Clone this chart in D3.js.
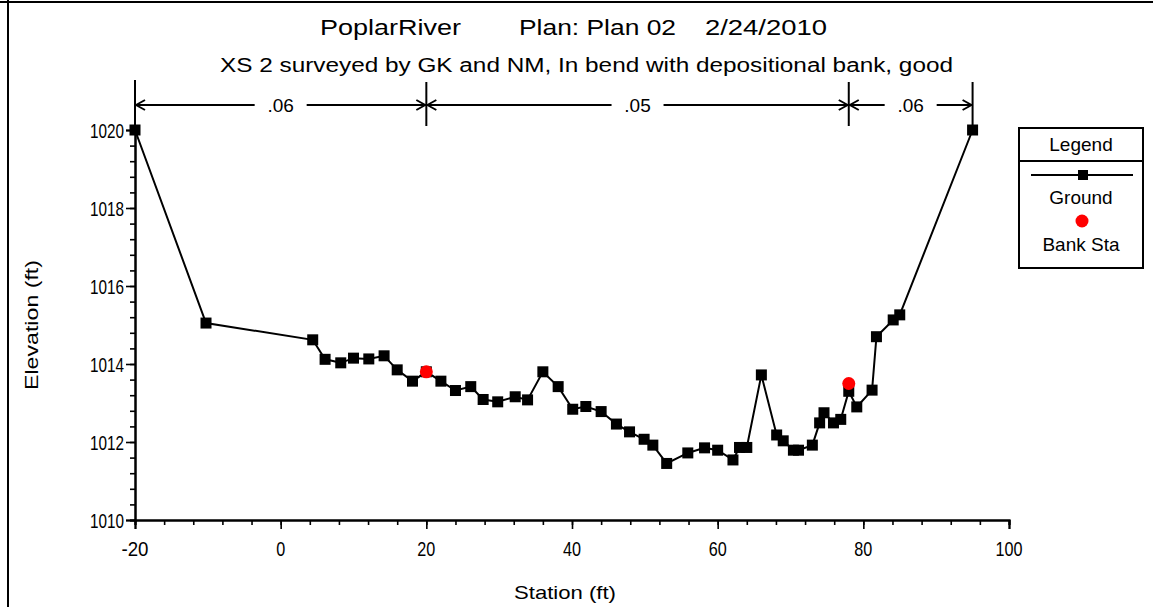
<!DOCTYPE html>
<html><head><meta charset="utf-8">
<script src="https://cdn.jsdelivr.net/npm/d3@7"></script>
<style>
html,body{margin:0;padding:0;background:#fff;}
svg{display:block;}
text{font-family:"Liberation Sans",Arial,sans-serif;fill:#000;}
</style></head>
<body>
<svg id="c" width="1153" height="607"></svg>
<script>
// ---- data ----
const groundStation = [-20,-10.25,4.4,6.1,8.25,10,12.1,14.2,16,18.1,20,22,24,26.1,27.8,29.8,32.2,33.9,36,38.1,40.1,41.9,44,46.1,47.9,49.9,51.1,53,55.9,58.2,60,62.1,63,64,66,68.1,69,70.4,71.1,73,74,74.6,75.9,76.9,78,79.1,81.2,81.8,84.1,85,95];
const groundElev    = [1020,1015.05,1014.62,1014.12,1014.03,1014.15,1014.13,1014.21,1013.85,1013.56,1013.8,1013.56,1013.32,1013.42,1013.09,1013.03,1013.16,1013.08,1013.8,1013.42,1012.84,1012.91,1012.78,1012.46,1012.26,1012.07,1011.92,1011.45,1011.72,1011.85,1011.79,1011.54,1011.86,1011.86,1013.72,1012.18,1012.03,1011.79,1011.79,1011.92,1012.49,1012.75,1012.49,1012.58,1013.3,1012.9,1013.33,1014.7,1015.13,1015.26,1020];
const bankStation = [20,78];
const bankElev    = [1013.8,1013.5];
const roughBreaks = [-20,20,78,95];
const roughValues = [".06",".05",".06"];
const xTicks = [-20,0,20,40,60,80,100];
const yTicks = [1010,1012,1014,1016,1018,1020];
const titleParts = ["PoplarRiver","Plan: Plan 02","2/24/2010"];
const subtitle = "XS 2 surveyed by  GK and NM, In bend with depositional bank, good";
const xLabel = "Station (ft)";
const yLabel = "Elevation (ft)";
const legendItems = ["Ground","Bank Sta"];

// ---- drawing ----
const svg = d3.select("#c");
const x = d3.scaleLinear().domain([-20,100]).range([135,1009]);
const y = d3.scaleLinear().domain([1010,1020]).range([520,130]);

// frame
svg.append("line").attr("x1",8).attr("x2",8).attr("y1",0).attr("y2",607).attr("stroke","#000").attr("stroke-width",2);
svg.append("line").attr("x1",0).attr("x2",1153).attr("y1",2).attr("y2",2).attr("stroke","#000").attr("stroke-width",2);

// titles
const tpos = [[320,141],[519,157],[705,122]];
titleParts.forEach((t,i)=>{
  svg.append("text").attr("x",tpos[i][0]).attr("y",35).attr("font-size",22)
    .attr("textLength",tpos[i][1]).attr("lengthAdjust","spacingAndGlyphs").text(t);
});
svg.append("text").attr("x",220).attr("y",72).attr("font-size",20)
  .attr("textLength",733).attr("lengthAdjust","spacingAndGlyphs").text(subtitle);

// axes (ticks through d3 axis, labels placed with the same scales)
const gx = svg.append("g").attr("transform","translate(0,520)");
gx.call(d3.axisBottom(x).tickValues(d3.range(-20,101,4)).tickSize(5).tickFormat(""));
gx.append("g").call(d3.axisBottom(x).tickValues(xTicks).tickSize(9).tickFormat(""));
gx.selectAll("path.domain").attr("stroke-width",2).attr("fill","none");
gx.selectAll("line").attr("stroke-width",1.6);
svg.append("g").selectAll("text").data(xTicks).join("text")
  .attr("x",d=>x(d)).attr("y",556).attr("text-anchor","middle")
  .attr("font-size",21).attr("textLength",d=>String(d).length*9).attr("lengthAdjust","spacingAndGlyphs")
  .text(d=>String(d));

const gy = svg.append("g").attr("transform","translate(135,0)");
gy.call(d3.axisLeft(y).tickValues(d3.range(0,26).map(i=>1010+i*0.4)).tickSize(5).tickFormat(""));
gy.append("g").call(d3.axisLeft(y).tickValues(yTicks).tickSize(9).tickFormat(""));
gy.selectAll("path.domain").attr("stroke-width",2).attr("fill","none");
gy.selectAll("line").attr("stroke-width",1.6);
svg.append("g").selectAll("text").data(yTicks).join("text")
  .attr("x",124).attr("y",d=>y(d)+7.5).attr("text-anchor","end")
  .attr("font-size",21).attr("textLength",34).attr("lengthAdjust","spacingAndGlyphs")
  .text(d=>String(d));
// extend y axis line to top
svg.append("line").attr("x1",x(-20)).attr("x2",x(-20)).attr("y1",80).attr("y2",130).attr("stroke","#000").attr("stroke-width",2);

// axis titles
svg.append("text").attr("x",565).attr("y",599).attr("text-anchor","middle").attr("font-size",19)
  .attr("textLength",102).attr("lengthAdjust","spacingAndGlyphs").text(xLabel);
svg.append("text").attr("transform","translate(38,325) rotate(-90)").attr("text-anchor","middle").attr("font-size",19)
  .attr("textLength",130).attr("lengthAdjust","spacingAndGlyphs").text(yLabel);

// roughness bar
const ry = 105;
const rg = svg.append("g");
roughBreaks.forEach((b,i)=>{
  const y2 = (i===0)?130:126;
  rg.append("line").attr("x1",x(b)).attr("x2",x(b)).attr("y1",82).attr("y2",y2).attr("stroke","#000").attr("stroke-width",2);
});
function arrow(px,dir){ // dir -1 points left, +1 right
  rg.append("path").attr("d",`M${px},${ry} L${px-dir*9},${ry-5} M${px},${ry} L${px-dir*9},${ry+5}`)
    .attr("stroke","#000").attr("stroke-width",2).attr("fill","none");
}
roughValues.forEach((v,i)=>{
  const a = x(roughBreaks[i]), b = x(roughBreaks[i+1]), m=(a+b)/2;
  const half = 26;
  rg.append("line").attr("x1",a).attr("x2",m-half).attr("y1",ry).attr("y2",ry).attr("stroke","#000").attr("stroke-width",2);
  rg.append("line").attr("x1",m+half).attr("x2",b).attr("y1",ry).attr("y2",ry).attr("stroke","#000").attr("stroke-width",2);
  arrow(a+1,-1); arrow(b-1,1);
  rg.append("text").attr("x",m).attr("y",ry+7).attr("text-anchor","middle").attr("font-size",19).text(v);
});

// ground line
const pts = groundStation.map((s,i)=>[s,groundElev[i]]);
svg.append("path").datum(pts).attr("fill","none").attr("stroke","#000").attr("stroke-width",2)
  .attr("d",d3.line().x(d=>x(d[0])).y(d=>y(d[1])));
const ms = 11;
svg.append("g").selectAll("rect").data(pts).join("rect")
  .attr("x",d=>x(d[0])-ms/2).attr("y",d=>y(d[1])-ms/2).attr("width",ms).attr("height",ms).attr("fill","#000");
// bank stations
svg.append("g").selectAll("circle").data(bankStation.map((s,i)=>[s,bankElev[i]])).join("circle")
  .attr("cx",d=>x(d[0])).attr("cy",d=>y(d[1])).attr("r",6.5).attr("fill","#ff0000");

// legend
const lg = svg.append("g");
lg.append("rect").attr("x",1019).attr("y",128).attr("width",124).attr("height",140).attr("fill","#fff").attr("stroke","#000").attr("stroke-width",2);
lg.append("line").attr("x1",1019).attr("x2",1143).attr("y1",161).attr("y2",161).attr("stroke","#000").attr("stroke-width",2);
lg.append("text").attr("x",1081).attr("y",151).attr("text-anchor","middle").attr("font-size",19).text("Legend");
lg.append("line").attr("x1",1031).attr("x2",1133).attr("y1",175).attr("y2",175).attr("stroke","#000").attr("stroke-width",2);
lg.append("rect").attr("x",1078).attr("y",170).attr("width",10).attr("height",10).attr("fill","#000");
lg.append("text").attr("x",1081).attr("y",204).attr("text-anchor","middle").attr("font-size",19).text(legendItems[0]);
lg.append("circle").attr("cx",1082).attr("cy",221).attr("r",6.5).attr("fill","#ff0000");
lg.append("text").attr("x",1081).attr("y",251).attr("text-anchor","middle").attr("font-size",19).text(legendItems[1]);
</script>
</body></html>
